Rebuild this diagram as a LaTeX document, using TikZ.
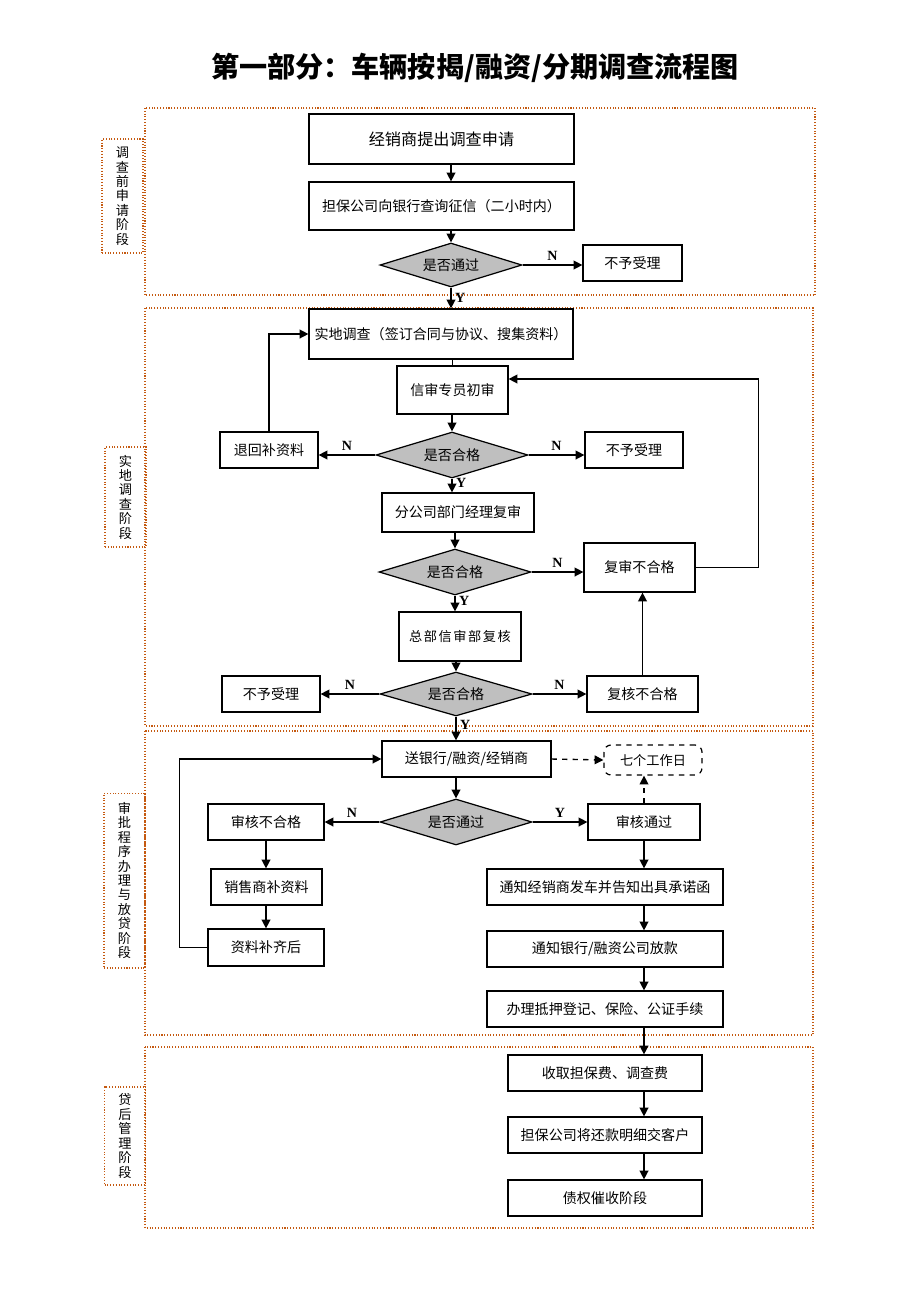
\documentclass[tikz,border=0pt]{standalone}
\usepackage{fontspec}
\setmainfont{Noto Sans CJK SC}
\newfontfamily\ynfont{Liberation Serif}
\newfontfamily\widefont[LetterSpace=12]{Noto Sans CJK SC}
\usetikzlibrary{shapes.geometric, arrows.meta}
\definecolor{stageline}{RGB}{197,90,17}
\definecolor{decisiongray}{RGB}{191,191,191}

\begin{document}
\begin{tikzpicture}[x=0.02cm, y=-0.02cm, line width=0.8pt,
		box/.style = {draw, line width=0.7pt, minimum width=#1, minimum height=0.72cm, inner sep=1pt, font=\fontsize{8}{10}\selectfont},
		box/.default = 2.2cm,
		decision/.style = {diamond, draw, line width=0.7pt, fill=decisiongray, aspect=3, inner sep=0pt, minimum width=3.04cm, minimum height=0.92cm, font=\fontsize{8}{10}\selectfont},
		phase/.style = {draw=stageline, densely dotted, line width=0.6pt, minimum width=0.82cm, align=center, font=\fontsize{7.5}{8.2}\selectfont},
		stage/.style = {draw=stageline, densely dotted, line width=0.6pt},
		arr/.style = {-{Triangle[length=5pt,width=5pt]}},
		yn/.style = {font=\ynfont\bfseries\fontsize{8}{9}\selectfont, inner sep=2pt}]
		\useasboundingbox (0,0) rectangle (920,1302);

		\node[font=\fontsize{16}{18}\selectfont\bfseries] (title) at (475,68) {第一部分：车辆按揭/融资/分期调查流程图};

		% stages
		\draw[stage] (145,108) rectangle (815,295);
		\draw[stage] (145,308) rectangle (813,726);
		\draw[stage] (145,731) rectangle (813,1035);
		\draw[stage] (145,1047) rectangle (813,1228);
		\node[phase, minimum height=2.28cm] (phase1) at (122.5,196) {调\\查\\前\\申\\请\\阶\\段};
		\node[phase, minimum height=2cm] (phase2) at (125.5,497) {实\\地\\调\\查\\阶\\段};
		\node[phase, minimum height=3.5cm] (phase3) at (124.5,880.5) {审\\批\\程\\序\\办\\理\\与\\放\\贷\\阶\\段};
		\node[phase, minimum height=1.96cm] (phase4) at (125,1136) {贷\\后\\管\\理\\阶\\段};

		% stage 1
		\node[box=5.3cm, minimum height=1cm, font=\fontsize{9.2}{11}\selectfont] (apply) at (441.5,139) {经销商提出调查申请};
		\node[box=5.3cm, minimum height=0.96cm] (credit) at (441.5,206) {担保公司向银行查询征信（二小时内）};
		\node[decision, minimum width=2.84cm, minimum height=0.88cm] (pass1) at (451,265) {是否通过};
		\node[box=1.98cm] (reject1) at (632.5,263) {不予受理};

		% stage 2
		\node[box=5.28cm, minimum height=1cm] (survey) at (441,334) {实地调查（签订合同与协议、搜集资料）};
		\node[box=2.22cm, minimum height=0.96cm] (firstcheck) at (452.5,390) {信审专员初审};
		\node[decision] (pass2) at (452,455) {是否合格};
		\node[box=1.96cm] (returndoc) at (269,450) {退回补资料};
		\node[box=1.96cm] (reject2) at (634,450) {不予受理};
		\node[box=3.04cm, minimum height=0.78cm] (recheck) at (458,512.5) {分公司部门经理复审};
		\node[decision] (pass3) at (455,572) {是否合格};
		\node[box=2.22cm, minimum height=0.98cm] (recheckfail) at (639.5,567.5) {复审不合格};
		\node[box=2.44cm, minimum height=0.98cm, font=\widefont\fontsize{7.5}{10}\selectfont] (hqcheck) at (460,636.5) {总部信审部复核};
		\node[decision, minimum height=0.88cm] (pass4) at (456,694) {是否合格};
		\node[box=2.22cm] (hqfail) at (642.5,694) {复核不合格};
		\node[box=1.96cm] (reject3) at (271,694) {不予受理};

		% stage 3
		\node[box=3.38cm] (sendbank) at (466.5,759) {送银行/融资/经销商};
		\node[box=1.96cm, minimum height=0.6cm, dashed, rounded corners=4pt, font=\fontsize{7.5}{10}\selectfont] (sevendays) at (653,760) {七个工作日};
		\node[decision] (pass5) at (456,822) {是否通过};
		\node[box=2.32cm] (auditfail) at (266,822) {审核不合格};
		\node[box=2.24cm] (auditok) at (644,822) {审核通过};
		\node[box=2.22cm] (dealerdoc) at (266.5,887) {销售商补资料};
		\node[box=2.32cm, minimum height=0.74cm] (docdone) at (266,947.5) {资料补齐后};
		\node[box=4.72cm] (notifydealer) at (605,887) {通知经销商发车并告知出具承诺函};
		\node[box=4.72cm] (notifybank) at (605,949) {通知银行/融资公司放款};
		\node[box=4.72cm] (mortgage) at (605,1009) {办理抵押登记、保险、公证手续};

		% stage 4
		\node[box=3.88cm] (fees) at (605,1073) {收取担保费、调查费};
		\node[box=3.88cm] (repayment) at (605,1135) {担保公司将还款明细交客户};
		\node[box=3.88cm] (collection) at (605,1198) {债权催收阶段};

		\draw[arr] (pass1.north |- apply.south) -- (pass1.north |- credit.north);
		\draw[arr] (pass1.north |- credit.south) -- (pass1.north);
		\draw[arr] (pass1.east) -- node[yn, above] {N} (pass1.east -| reject1.west);
		\draw[arr] (pass1.south) -- node[yn, right] {Y} (pass1.south |- survey.north);

		\draw (firstcheck.north |- survey.south) -- (firstcheck.north);
		\draw[arr] (pass2.north |- firstcheck.south) -- (pass2.north);
		\draw[arr] (pass2.west) -- node[yn, above] {N} (pass2.west -| returndoc.east);
		\draw[arr] (pass2.east) -- node[yn, above] {N} (pass2.east -| reject2.west);
		\draw[arr] (returndoc.north) |- (survey.west);
		\draw[arr] (pass2.south) -- node[yn, right, pos=0.3] {Y} (pass2.south |- recheck.north);
		\draw[arr] (pass3.north |- recheck.south) -- (pass3.north);
		\draw[arr] (pass3.east) -- node[yn, above] {N} (pass3.east -| recheckfail.west);
		\draw[arr] (recheckfail.east) -- ++(63,0) |- ([yshift=0.22cm]firstcheck.east);
		\draw[arr] (pass3.south) -- node[yn, right, pos=0.35] {Y} (pass3.south |- hqcheck.north);
		\draw[arr] (pass4.north |- hqcheck.south) -- (pass4.north);
		\draw[arr] (pass4.west) -- node[yn, above] {N} (reject3.east);
		\draw[arr] (pass4.east) -- node[yn, above] {N} (hqfail.west);
		\draw[arr] (hqfail.north) -- (hqfail.north |- recheckfail.south);
		\draw[arr] (pass4.south) -- node[yn, right, pos=0.35] {Y} (pass4.south |- sendbank.north);

		\draw[arr, dashed] (sendbank.east) -- (sevendays.west);
		\draw[arr] (pass5.north |- sendbank.south) -- (pass5.north);
		\draw[arr] (pass5.west) -- node[yn, above] {N} (auditfail.east);
		\draw[arr] (pass5.east) -- node[yn, above] {Y} (auditok.west);
		\draw[arr, dashed] (auditok.north) -- (auditok.north |- sevendays.south);
		\draw[arr] (auditfail.south) -- (auditfail.south |- dealerdoc.north);
		\draw[arr] (auditfail.south |- dealerdoc.south) -- (auditfail.south |- docdone.north);
		\draw[arr] (docdone.west) -- ++(-28,0) |- (sendbank.west);
		\draw[arr] (auditok.south) -- (auditok.south |- notifydealer.north);
		\draw[arr] (auditok.south |- notifydealer.south) -- (auditok.south |- notifybank.north);
		\draw[arr] (auditok.south |- notifybank.south) -- (auditok.south |- mortgage.north);
		\draw[arr] (auditok.south |- mortgage.south) -- (auditok.south |- fees.north);
		\draw[arr] (auditok.south |- fees.south) -- (auditok.south |- repayment.north);
		\draw[arr] (auditok.south |- repayment.south) -- (auditok.south |- collection.north);

	\end{tikzpicture}
\end{document}
